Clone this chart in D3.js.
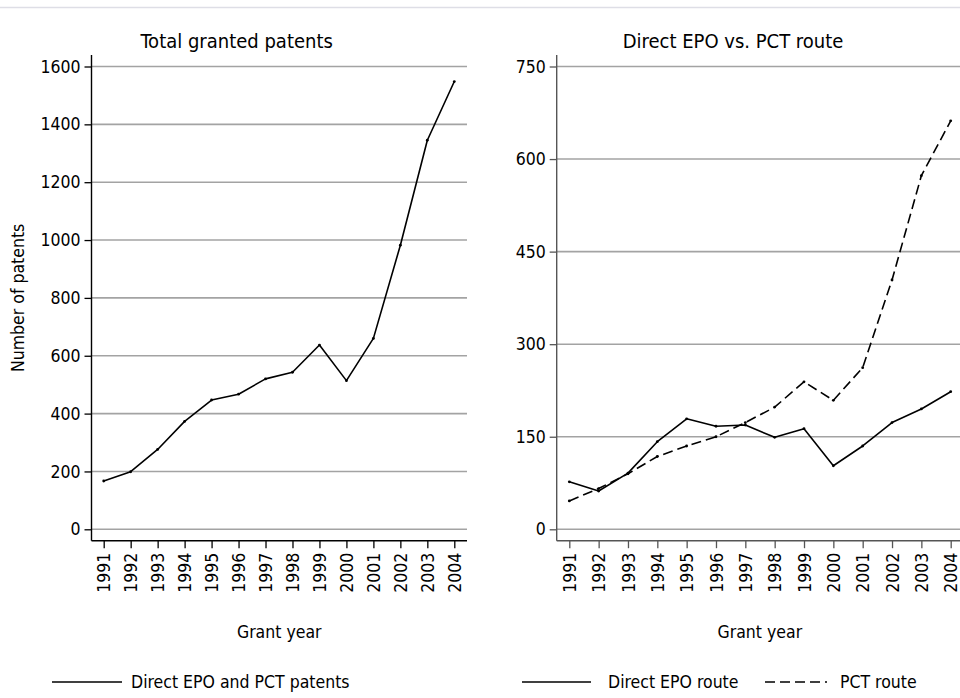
<!DOCTYPE html>
<html>
<head>
<meta charset="utf-8">
<script src="https://cdn.jsdelivr.net/npm/d3@7"></script>
<style>
  html, body { margin: 0; padding: 0; background: #fff; }
  svg { display: block; }
  text { font-family: "DejaVu Sans Condensed", "DejaVu Sans", sans-serif; font-stretch: condensed; fill: #000; }
</style>
</head>
<body>
<div id="canvas"></div>
<script>
"use strict";

/* Data */
let years = [1991, 1992, 1993, 1994, 1995, 1996, 1997, 1998, 1999, 2000, 2001, 2002, 2003, 2004];
let totalGranted = [167, 199, 276, 373, 447, 467, 520, 543, 637, 514, 660, 982, 1345, 1548];
let directEpo = [77, 62, 91, 142, 179, 167, 169, 149, 163, 103, 135, 173, 195, 223];
let pctRoute = [46, 66, 90, 118, 135, 150, 173, 198, 239, 209, 262, 404, 573, 662];
let leftTicks = [0, 200, 400, 600, 800, 1000, 1200, 1400, 1600];
let rightTicks = [0, 150, 300, 450, 600, 750];

/* Drawing config */
let svgWidth = 960;
let svgHeight = 698;
let axisTop = 55;
let axisBottom = 540.7;
let yZero = 529.3;
let yMax = 66.5;

let svg = d3.select("#canvas")
  .append("svg")
  .attr("width", svgWidth)
  .attr("height", svgHeight);

/* light frame line at top */
svg.append("line")
  .attr("x1", 0).attr("x2", svgWidth)
  .attr("y1", 7.5).attr("y2", 7.5)
  .attr("stroke", "#dedee6")
  .attr("stroke-width", 1.5);

function drawPanel(opt) {
  let g = svg.append("g");

  let x = d3.scaleLinear()
    .domain([years[0], years[years.length - 1]])
    .range([opt.xFirst, opt.xLast]);

  let y = d3.scaleLinear()
    .domain([0, opt.ticks[opt.ticks.length - 1]])
    .range([yZero, yMax]);

  /* gridlines */
  g.selectAll("line.grid")
    .data(opt.ticks)
    .enter()
    .append("line")
    .attr("class", "grid")
    .attr("x1", opt.left)
    .attr("x2", opt.right)
    .attr("y1", d => y(d))
    .attr("y2", d => y(d))
    .attr("stroke", "#a3a3a3")
    .attr("stroke-width", 1.6);

  /* y axis */
  let yAxis = g.append("g")
    .attr("transform", "translate(" + opt.left + ",0)")
    .call(d3.axisLeft(y).tickValues(opt.ticks).tickSize(7).tickPadding(4).tickFormat(d3.format("d")));
  yAxis.select(".domain").remove();
  yAxis.selectAll(".tick line").attr("stroke", opt.axisColor).attr("stroke-width", 1.3);
  yAxis.selectAll(".tick text")
    .attr("font-size", "17.5px")
    .attr("font-family", null);

  /* x axis */
  let xAxis = g.append("g")
    .attr("transform", "translate(0," + axisBottom + ")")
    .call(d3.axisBottom(x).tickValues(years).tickSize(7.5).tickFormat(d3.format("d")));
  xAxis.select(".domain").remove();
  xAxis.selectAll(".tick line").attr("stroke", opt.axisColor).attr("stroke-width", 1.3);
  xAxis.selectAll(".tick text")
    .attr("font-size", "17.5px")
    .attr("font-family", null)
    .attr("text-anchor", "end")
    .attr("transform", "rotate(-90)")
    .attr("x", -12)
    .attr("y", 0)
    .attr("dy", "0.35em");

  /* axis lines */
  g.append("line")
    .attr("x1", opt.left).attr("x2", opt.left)
    .attr("y1", axisTop).attr("y2", axisBottom)
    .attr("stroke", opt.axisColor).attr("stroke-width", 1.4);
  g.append("line")
    .attr("x1", opt.left).attr("x2", opt.right)
    .attr("y1", axisBottom).attr("y2", axisBottom)
    .attr("stroke", opt.axisColor).attr("stroke-width", 1.4);

  /* series */
  opt.series.forEach(function (s) {
    let pts = years.map((yr, i) => ({ x: yr, y: s.values[i] }));
    let line = d3.line().x(d => x(d.x)).y(d => y(d.y));
    g.append("path")
      .datum(pts)
      .attr("d", line)
      .attr("fill", "none")
      .attr("stroke", "#000")
      .attr("stroke-width", 1.6)
      .attr("stroke-dasharray", s.dash)
      .attr("stroke-linejoin", "round");
    g.selectAll(null)
      .data(pts)
      .enter()
      .append("circle")
      .attr("cx", d => x(d.x))
      .attr("cy", d => y(d.y))
      .attr("r", 1.4)
      .attr("fill", "#000");
  });

  /* title */
  g.append("text")
    .attr("x", opt.titleX)
    .attr("y", 48)
    .attr("text-anchor", "middle")
    .attr("font-size", "20px")
    .text(opt.title);

  /* x axis title */
  g.append("text")
    .attr("x", (opt.left + opt.right) / 2)
    .attr("y", 638)
    .attr("text-anchor", "middle")
    .attr("font-size", "17.5px")
    .text("Grant year");

  return g;
}

drawPanel({
  left: 91.5, right: 467, xFirst: 103.7, xLast: 454.3,
  ticks: leftTicks, axisColor: "#000",
  title: "Total granted patents", titleX: 236.7,
  series: [{ values: totalGranted, dash: null }]
});

drawPanel({
  left: 556.7, right: 963, xFirst: 569.3, xLast: 950.7,
  ticks: rightTicks, axisColor: "#555",
  title: "Direct EPO vs. PCT route", titleX: 733,
  series: [
    { values: directEpo, dash: null },
    { values: pctRoute, dash: "10,5" }
  ]
});

/* y axis label */
svg.append("text")
  .attr("transform", "translate(24," + ((axisTop + axisBottom) / 2) + ") rotate(-90)")
  .attr("text-anchor", "middle")
  .attr("font-size", "17.5px")
  .text("Number of patents");

/* legends */
let legendItems = [
  { x1: 52, x2: 122, tx: 131, label: "Direct EPO and PCT patents", dash: null },
  { x1: 522, x2: 591, tx: 608, label: "Direct EPO route", dash: null },
  { x1: 765, x2: 827, tx: 840, label: "PCT route", dash: "10,5" }
];
let legendY = 682;
legendItems.forEach(function (item) {
  svg.append("line")
    .attr("x1", item.x1).attr("x2", item.x2)
    .attr("y1", legendY).attr("y2", legendY)
    .attr("stroke", "#000")
    .attr("stroke-width", 1.6)
    .attr("stroke-dasharray", item.dash);
  svg.append("text")
    .attr("x", item.tx)
    .attr("y", legendY)
    .attr("dy", "0.35em")
    .attr("font-size", "17.5px")
    .text(item.label);
});
</script>
</body>
</html>
